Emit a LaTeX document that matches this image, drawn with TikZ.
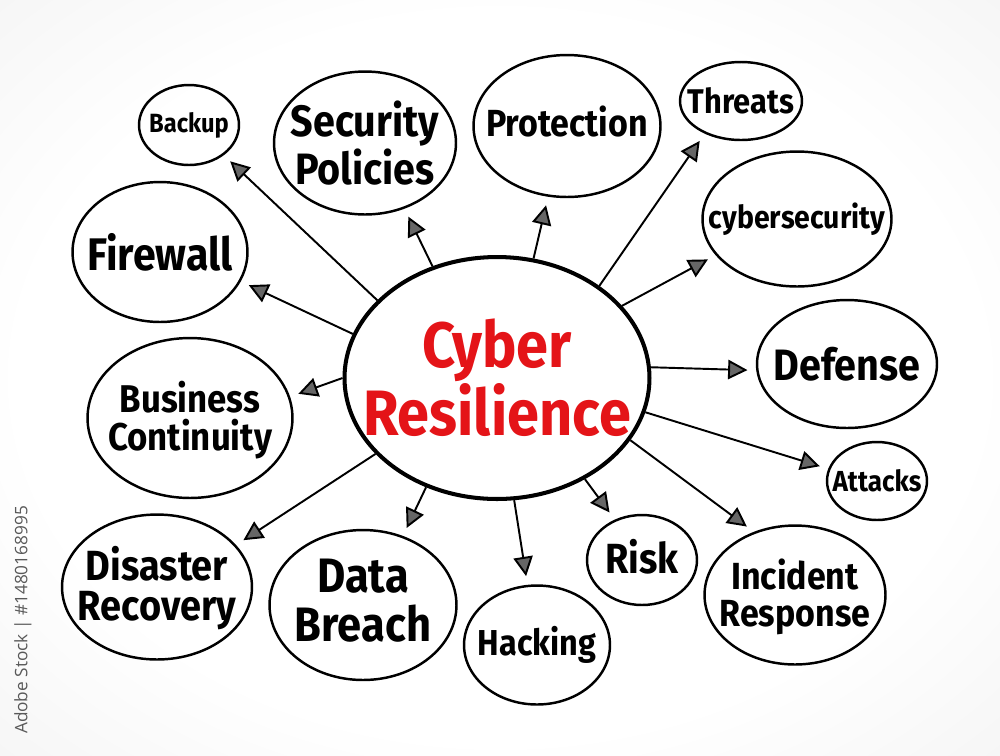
\documentclass[tikz,border=0pt]{standalone}
\usepackage{fontspec}
\usepackage{tikz}
\usetikzlibrary{arrows.meta,shapes.geometric}
\newfontfamily\handfont[FakeStretch=0.9]{Fira Sans}
\newfontfamily\markfont{Open Sans}
\definecolor{resred}{RGB}{228,20,24}
\newcommand{\hand}[2]{\handfont\bfseries\fontsize{#1}{#2}\selectfont}
\pgfdeclareradialshading{paper}{\pgfpoint{0bp}{0bp}}{color(0bp)=(white); color(24bp)=(white); color(50bp)=(black!8); color(72bp)=(black!15)}

\tikzset{
	bubble/.style={ellipse, draw, line width=1.4pt, inner sep=0pt},
	txt/.style={align=center, inner sep=0pt},
	arr/.style={line width=1.1pt, -{Triangle[length=11pt,width=11pt,fill=black!60]}, shorten >=5pt},
}

\begin{document}
\begin{tikzpicture}[x=0.02cm, y=-0.02cm]
			%%%%% START %%%%%
			
			\useasboundingbox (0, 0) rectangle (1000, 755);
			\shade[shading=paper] (0, 0) rectangle (1000, 755);
			
			\node[rotate=90, text=black!65, font=\markfont\fontsize{9.8}{11}\selectfont] (stock) at (23, 620) {Adobe Stock | \#1480168995};
			
			% centre
			\node[bubble, line width=2.3pt, minimum width=6.1cm, minimum height=4.84cm] (cr) at (497, 378) {};
			\node[txt, text=resred, font=\hand{36.5}{37}] (cr-t) at (cr) {Cyber\\Resilience};
			
			% top row
			\node[bubble, minimum width=2.0cm, minimum height=1.6cm] (backup) at (189, 125) {};
			\node[txt, font=\hand{15}{15}] (backup-t) at (backup) {Backup};
			\node[bubble, minimum width=3.64cm, minimum height=2.86cm] (secpol) at (365, 143) {};
			\node[txt, font=\hand{25}{24}] (secpol-t) at (secpol) {Security\\Policies};
			\node[bubble, minimum width=3.74cm, minimum height=2.84cm] (protect) at (567, 126) {};
			\node[txt, font=\hand{21.5}{22}] (protect-t) at (567, 121) {Protection};
			\node[bubble, minimum width=2.44cm, minimum height=1.56cm] (threats) at (741, 101) {};
			\node[txt, font=\hand{19.5}{20}] (threats-t) at (threats) {Threats};
			\node[bubble, minimum width=3.78cm, minimum height=2.7cm] (cybsec) at (797, 219) {};
			\node[txt, font=\hand{18}{18}] (cybsec-t) at (cybsec) {cybersecurity};
			
			% sides
			\node[bubble, minimum width=3.5cm, minimum height=2.8cm] (firewall) at (160, 252) {};
			\node[txt, font=\hand{26}{26}] (firewall-t) at (firewall) {Firewall};
			\node[bubble, minimum width=3.6cm, minimum height=2.56cm] (defense) at (847, 364) {};
			\node[txt, font=\hand{25}{25}] (defense-t) at (defense) {Defense};
			\node[bubble, minimum width=4.1cm, minimum height=3.2cm] (business) at (190, 418) {};
			\node[txt, font=\hand{22}{22}] (business-t) at (190, 420) {Business\\Continuity};
			\node[bubble, minimum width=2.0cm, minimum height=1.56cm] (attacks) at (877, 481) {};
			\node[txt, font=\hand{16.5}{17}] (attacks-t) at (attacks) {Attacks};
			
			% bottom row
			\node[bubble, minimum width=3.8cm, minimum height=2.9cm] (disaster) at (157, 587) {};
			\node[txt, font=\hand{24}{23}] (disaster-t) at (157, 588) {Disaster\\Recovery};
			\node[bubble, minimum width=3.74cm, minimum height=3.0cm] (breach) at (363, 605) {};
			\node[txt, font=\hand{27.5}{28}] (breach-t) at (363, 601) {Data\\Breach};
			\node[bubble, minimum width=2.92cm, minimum height=2.38cm] (hacking) at (537, 645) {};
			\node[txt, font=\hand{20.5}{21}] (hacking-t) at (hacking) {Hacking};
			\node[bubble, minimum width=2.2cm, minimum height=1.8cm] (risk) at (642, 560) {};
			\node[txt, font=\hand{24}{24}] (risk-t) at (642, 557) {Risk};
			\node[bubble, minimum width=3.62cm, minimum height=2.78cm] (incident) at (795, 595) {};
			\node[txt, font=\hand{21.5}{21}] (incident-t) at (795, 597) {Incident\\Response};
			
			% arrows
			\draw[arr] (cr.147) -- (backup.-41);
			\draw[arr] (cr.120) -- (secpol.-59);
			\draw[arr] (cr.73) -- (protect.-105);
			\draw[arr] (cr.42) -- (threats.-138);
			\draw[arr] (cr.30) -- (cybsec.-156);
			\draw[arr] (cr.163) -- (firewall.-20);
			\draw[arr] (cr.4) -- (defense.-176);
			\draw[arr] (cr.180) -- (business.12);
			\draw[arr] (cr.-13) -- (attacks.166);
			\draw[arr] (cr.-148) -- (disaster.28);
			\draw[arr] (cr.-123) -- (breach.60);
			\draw[arr] (cr.-82) -- (hacking.99);
			\draw[arr] (cr.-49) -- (risk.124);
			\draw[arr] (cr.-25) -- (incident.123);
			
			%%%%% END %%%%%
\end{tikzpicture}
\end{document}
